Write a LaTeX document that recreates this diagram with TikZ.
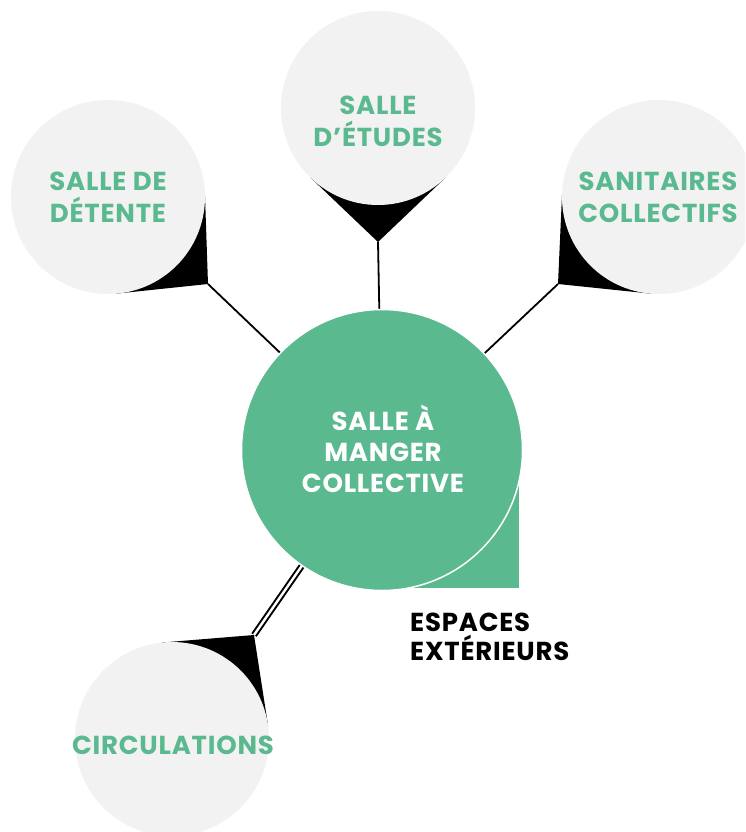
\documentclass[tikz,border=0pt]{standalone}
\usepackage{fontspec}
\setmainfont{Poppins}[LetterSpace=3]
\usetikzlibrary{calc}
\definecolor{brandgreen}{RGB}{91,185,143}
\definecolor{softgrey}{RGB}{242,242,242}
\pgfdeclarelayer{bg}
\pgfsetlayers{bg,main}
\tikzset{
  greycirc/.style={circle, fill=softgrey, inner sep=0pt, outer sep=0pt, minimum size=194pt},
  maincirc/.style={circle, fill=brandgreen, draw=white, line width=1.5pt, inner sep=0pt, outer sep=0pt, minimum size=281pt},
  lbl/.style={font=\bfseries\fontsize{26}{32}\selectfont, align=center, inner sep=0pt},
  greenlbl/.style={lbl, text=brandgreen},
  whitelbl/.style={lbl, text=white, font=\bfseries\fontsize{26}{31}\selectfont},
  darklbl/.style={font=\bfseries\fontsize{26}{29}\selectfont, align=left, inner sep=0pt, text=black, anchor=west},
  wedge/.style={fill=black},
  link/.style={draw=black, line width=1.8pt},
  doublelink/.style={draw=black, line width=2pt, double=white, double distance=2.4pt}
}
\begin{document}
\begin{tikzpicture}[x=1pt, y=-1pt]
\useasboundingbox (0,0) rectangle (745,832);
\clip (0,0) rectangle (745,832);
% main circle
\node[maincirc] (main) at (382,450) {};
\node[whitelbl] (mainlbl) at (383,449) {SALLE À\\MANGER\\COLLECTIVE};
\begin{pgfonlayer}{bg}
  \fill[brandgreen] (main.center) rectangle (519,588);
\end{pgfonlayer}
% satellite circles
\node[greycirc] (detente) at (108,197) {};
\node[greycirc] (etudes) at (378,108) {};
\node[greycirc] (sanitaires) at (659,197) {};
\node[greycirc] (circulations) at (172,739) {};
\node[greenlbl] (detentelbl) at (108,197) {SALLE DE\\DÉTENTE};
\node[greenlbl] (etudeslbl) at (378,121) {SALLE\\D’ÉTUDES};
\node[greenlbl] (sanitaireslbl) at (658,197) {SANITAIRES\\COLLECTIFS};
\node[greenlbl] (circulationslbl) at (173,745) {CIRCULATIONS};
\node[darklbl] (espaces) at (410,637) {ESPACES\\EXTÉRIEURS};
% tips
\coordinate (detentetip) at (208,284);
\coordinate (etudestip) at (378,242);
\coordinate (sanitairestip) at (558,284);
\coordinate (circulationstip) at (254,635);
\begin{pgfonlayer}{bg}
  \fill[wedge] (detentetip) -- ($(detente.center)+(41+44:97)$) -- (detente.center) -- ($(detente.center)+(41-44:97)$) -- cycle;
  \fill[wedge] (etudestip) -- ($(etudes.center)+(90+44:97)$) -- (etudes.center) -- ($(etudes.center)+(90-44:97)$) -- cycle;
  \fill[wedge] (sanitairestip) -- ($(sanitaires.center)+(139+44:97)$) -- (sanitaires.center) -- ($(sanitaires.center)+(139-44:97)$) -- cycle;
  \fill[wedge] (circulationstip) -- ($(circulations.center)+(-52+44:97)$) -- (circulations.center) -- ($(circulations.center)+(-52-44:97)$) -- cycle;
  \draw[link] (detentetip) -- (main.center);
  \draw[link] (etudestip) -- (main.center);
  \draw[link] (sanitairestip) -- (main.center);
  \draw[doublelink] (circulationstip) -- (main.center);
\end{pgfonlayer}
\end{tikzpicture}
\end{document}
